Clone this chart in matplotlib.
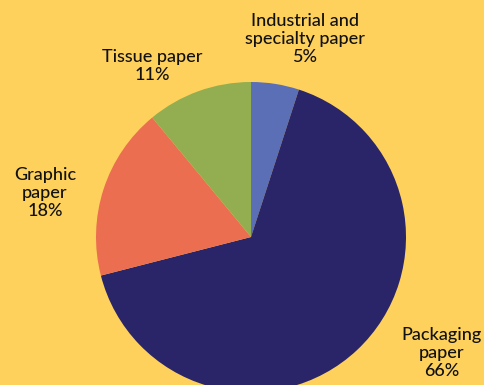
import matplotlib
matplotlib.use("Agg")
from matplotlib import pyplot as plt

categories = ["Industrial and\nspecialty paper", "Packaging\npaper", "Graphic\npaper", "Tissue paper"]
shares = [5, 66, 18, 11]
colors = ["#5A6FB5", "#2A2468", "#EC6E50", "#93AE51"]
bg = "#FED15C"

plt.rcParams["font.family"] = ["Lato", "DejaVu Sans"]

W, H = 485, 385
fig = plt.figure(figsize=(W / 100, H / 100), dpi=100, facecolor=bg)
ax = fig.add_axes([0, 0, 1, 1])

# pie in pixel units, y measured from the bottom
cx, cy, r = 251, H - 237, 155
ax.pie(shares, colors=colors, startangle=90, counterclock=False,
       center=(cx, cy), radius=r, frame=True,
       wedgeprops=dict(linewidth=0))
ax.set_xlim(0, W)
ax.set_ylim(0, H)
ax.set_aspect("equal")
ax.axis("off")

# label centres (x, y from the top edge)
label_pos = [(305, 39), (442, 353), (45, 193), (152, 66)]
for name, val, (x, y) in zip(categories, shares, label_pos):
    ax.text(x, H - y, f"{name}\n{val}%", ha="center", va="center",
            fontsize=13, fontweight="medium", color="#111111", linespacing=1.12)

fig.savefig("out.png", dpi=100, facecolor=bg)
